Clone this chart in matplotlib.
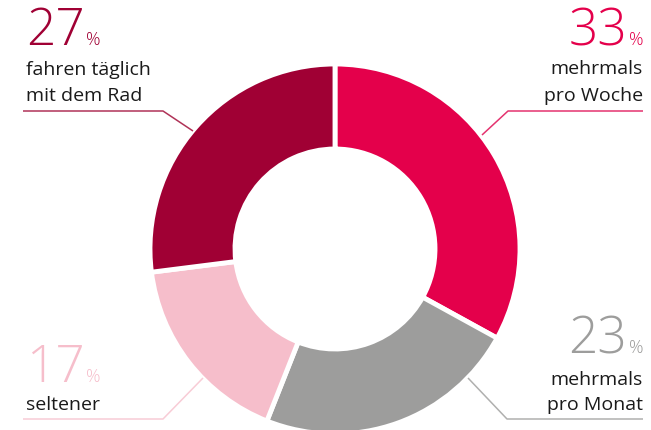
import matplotlib.pyplot as plt

# data
labels = ["mehrmals\npro Woche", "mehrmals\npro Monat", "seltener", "fahren täglich\nmit dem Rad"]
values = [33, 23, 17, 27]
colors = ["#E4004B", "#9D9D9C", "#F6BECB", "#A00034"]
line_colors = ["#E4336F", "#B0B0AF", "#F8CCD6", "#B03358"]

W, H = 651, 430
plt.rcParams['font.family'] = ['Open Sans', 'DejaVu Sans']

fig = plt.figure(figsize=(W / 100, H / 100), dpi=100)
ax = fig.add_axes([0, 0, 1, 1])


def py(y):
    # pixel row from top -> data y
    return H - y


ax.pie(values, colors=colors, startangle=90, counterclock=False,
       center=(335, py(249)), radius=185,
       wedgeprops=dict(width=85, edgecolor='white', linewidth=3.5))

# pie() resets the limits, so set them afterwards
ax.set_xlim(0, W)
ax.set_ylim(0, H)
ax.set_aspect('equal')
ax.axis('off')

# label layout: number x, % x, align, number baseline, text baselines, line y, line x range, diag end
layout = [
    dict(nx=627, px=643, ha='right', ny=45, ty=[74, 101], ly=111, lx=(508, 643), d=(482, 135)),
    dict(nx=627, px=643, ha='right', ny=353, ty=[385, 410], ly=419, lx=(507, 643), d=(468, 378)),
    dict(nx=26, px=86, ha='left', ny=382, ty=[410], ly=419, lx=(23, 163), d=(203, 378)),
    dict(nx=26, px=86, ha='left', ny=45, ty=[75, 101], ly=111, lx=(23, 163), d=(193, 131)),
]

for val, lab, col, lcol, L in zip(values, labels, colors, line_colors, layout):
    ax.text(L['nx'], py(L['ny']), str(val), ha=L['ha'], va='baseline',
            fontsize=37, fontweight='light', color=col)
    ax.text(L['px'], py(L['ny']), "%", ha=L['ha'], va='baseline',
            fontsize=13, fontweight='light', color=col)
    for line, y in zip(lab.split("\n"), L['ty']):
        ax.text(L['px'] if L['ha'] == 'right' else 26, py(y), line,
                ha=L['ha'], va='baseline', fontsize=14, color='#1a1a1a')
    x0, x1 = L['lx']
    if L['ha'] == 'right':
        xs = [L['d'][0], x0, x1]
        ys = [L['d'][1], L['ly'], L['ly']]
    else:
        xs = [x0, x1, L['d'][0]]
        ys = [L['ly'], L['ly'], L['d'][1]]
    ax.plot(xs, [py(v) for v in ys], color=lcol, lw=1.1, solid_capstyle='butt')

fig.savefig("out.png", dpi=100)
